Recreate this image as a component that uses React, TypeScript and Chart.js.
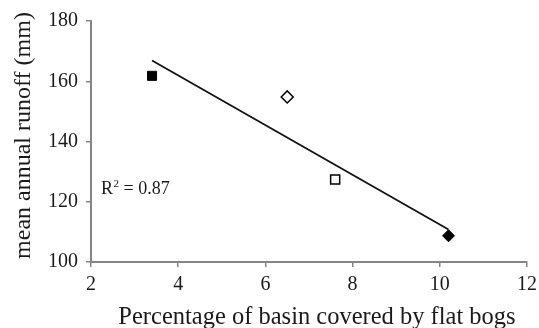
import React, { useEffect, useRef } from "react";
import { Chart, registerables } from "chart.js";

Chart.register(...registerables);

// ---- data ----
const pointX = [3.4, 6.5, 7.6, 10.2];
const pointY = [161.8, 154.8, 127.4, 108.7];
const pointShapes = ["rect", "rectRot", "rect", "rectRot"];
const pointFilled = [true, false, false, true];
const trendX = [3.4, 10.2];
const trendY = [166.9, 110.8];
const xMin = 2;
const xMax = 12;
const xStep = 2;
const yMin = 100;
const yMax = 180;
const yStep = 20;
const rSquaredText = "0.87";
const rLabelPos = [2.23, 122.6];
const xTitle = "Percentage of basin covered by flat bogs";
const yTitle = "mean annual runoff (mm)";

const FONT = "'Liberation Serif', 'Times New Roman', serif";
const AXIS_COLOR = "#858585";
const TEXT_COLOR = "#1a1a1a";

const annotationPlugin = {
  id: "annotations",
  afterDraw(chart: any) {
    const { ctx, scales, chartArea, height } = chart;
    ctx.save();
    ctx.fillStyle = TEXT_COLOR;

    // R² label
    const x = scales.x.getPixelForValue(rLabelPos[0]);
    const y = scales.y.getPixelForValue(rLabelPos[1]);
    ctx.textBaseline = "alphabetic";
    ctx.textAlign = "left";
    ctx.font = `18px ${FONT}`;
    ctx.fillText("R", x, y);
    let w = ctx.measureText("R").width;
    ctx.font = `11px ${FONT}`;
    ctx.fillText("2", x + w + 0.5, y - 7);
    w += ctx.measureText("2").width + 0.5;
    ctx.font = `18px ${FONT}`;
    ctx.fillText(" = " + rSquaredText, x + w, y);

    // x axis title
    ctx.font = `24.5px ${FONT}`;
    ctx.textAlign = "center";
    ctx.textBaseline = "alphabetic";
    ctx.fillText(xTitle, (chartArea.left + chartArea.right) / 2 + 8, height - 4);

    // y axis title
    ctx.save();
    ctx.translate(30, (chartArea.top + chartArea.bottom) / 2 - 6);
    ctx.rotate(-Math.PI / 2);
    ctx.font = `24px ${FONT}`;
    ctx.textAlign = "center";
    ctx.textBaseline = "alphabetic";
    ctx.fillText(yTitle, 0, 0);
    ctx.restore();

    ctx.restore();
  },
};

export default function App() {
  const ref = useRef<HTMLCanvasElement | null>(null);

  useEffect(() => {
    document.body.style.margin = "0";
    const canvas = ref.current;
    if (!canvas) return;
    const chart = new Chart(canvas, {
      type: "scatter",
      data: {
        datasets: [
          {
            type: "line",
            data: trendX.map((x, i) => ({ x, y: trendY[i] })),
            borderColor: "#111",
            borderWidth: 1.8,
            pointRadius: 0,
            fill: false,
            order: 2,
          } as any,
          {
            type: "scatter",
            data: pointX.map((x, i) => ({ x, y: pointY[i] })),
            pointStyle: pointShapes as any,
            pointRadius: pointShapes.map((s) => (s === "rect" ? 6.4 : 6)),
            backgroundColor: pointFilled.map((f) => (f ? "#000" : "#fff")),
            borderColor: "#000",
            borderWidth: pointFilled.map((f) => (f ? 1 : 1.5)),
            order: 1,
          } as any,
        ],
      },
      options: {
        animation: false,
        responsive: false,
        events: [],
        layout: { padding: { top: 21, right: 12, left: 0, bottom: 0 } },
        plugins: {
          legend: { display: false },
          tooltip: { enabled: false },
        },
        scales: {
          x: {
            type: "linear",
            min: xMin,
            max: xMax,
            ticks: {
              stepSize: xStep,
              color: TEXT_COLOR,
              font: { family: FONT, size: 20 },
              padding: 6,
              maxRotation: 0,
            },
            grid: {
              drawOnChartArea: false,
              drawTicks: true,
              tickLength: 5,
              color: AXIS_COLOR,
              lineWidth: 1.5,
            },
            border: { color: AXIS_COLOR, width: 2 },
            title: { display: false },
            afterFit: (scale: any) => {
              scale.height = 66;
              scale.paddingLeft = 0;
              scale.paddingRight = 0;
            },
          },
          y: {
            type: "linear",
            min: yMin,
            max: yMax,
            ticks: {
              stepSize: yStep,
              color: TEXT_COLOR,
              font: { family: FONT, size: 20 },
              padding: 8,
            },
            grid: {
              drawOnChartArea: false,
              drawTicks: true,
              tickLength: 5,
              color: AXIS_COLOR,
              lineWidth: 1.5,
            },
            border: { color: AXIS_COLOR, width: 2 },
            title: { display: false },
            afterFit: (scale: any) => {
              scale.width = 91;
              scale.paddingTop = 0;
              scale.paddingBottom = 0;
            },
          },
        },
      },
      plugins: [annotationPlugin],
    } as any);
    return () => chart.destroy();
  }, []);

  return (
    <div style={{ position: "absolute", left: 0, top: 0, width: 539, height: 328, background: "#fff" }}>
      <canvas ref={ref} width={539} height={328} />
    </div>
  );
}
